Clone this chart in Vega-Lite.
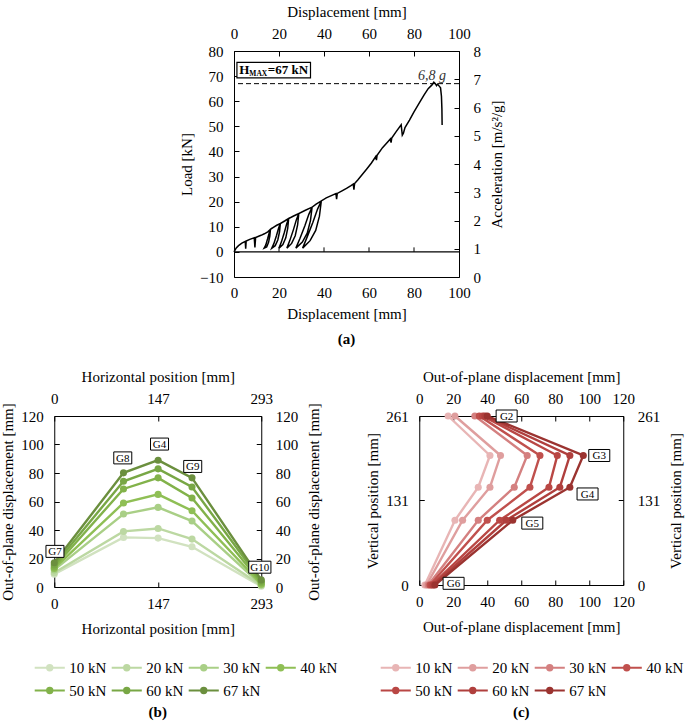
{
  "$schema": "https://vega.github.io/schema/vega-lite/v6.json",
  "background": "white",
  "padding": {"left": 0, "top": 3, "right": 0, "bottom": 0},
  "config": {
    "font": "Liberation Serif",
    "view": {"stroke": "black", "strokeWidth": 1},
    "axis": {"domain": false, "grid": false, "labelFont": "Liberation Serif", "titleFont": "Liberation Serif", "labelFontSize": 15, "titleFontSize": 15, "titleFontWeight": "normal", "labelColor": "black", "titleColor": "black", "tickColor": "black", "tickSize": -5, "labelFlush": false, "labelOverlap": false},
    "axisTop": {"labelPadding": 15, "titlePadding": 7},
    "axisBottom": {"labelPadding": 14, "titlePadding": 10},
    "axisLeft": {"labelPadding": 16, "titlePadding": 5},
    "axisRight": {"labelPadding": 19, "titlePadding": 9, "titleAngle": 270, "titleBaseline": "top"},
    "legend": {"orient": "none", "direction": "horizontal", "columns": 4, "labelFont": "Liberation Serif", "symbolType": "M-2.15,0H2.15M-0.37,0A0.37,0.37,0,1,0,0.37,0A0.37,0.37,0,1,0,-0.37,0M-0.15,0A0.15,0.15,0,1,0,0.15,0A0.15,0.15,0,1,0,-0.15,0", "symbolSize": 196, "symbolStrokeWidth": 2.2, "labelFontSize": 15, "labelColor": "black", "labelOffset": 11, "columnPadding": 0, "rowPadding": 6},
    "title": {"font": "Liberation Serif", "fontSize": 15, "fontWeight": "bold", "color": "black", "orient": "bottom", "offset": 10},
    "text": {"font": "Liberation Serif"}
  },
  "datasets": {
    "curve": [
      {"i":0,"d":0,"f":0},{"i":1,"d":1,"f":1.6},{"i":2,"d":2,"f":2.5},{"i":3,"d":3.5,"f":3.5},{"i":4,"d":5,"f":4.2},{"i":5,"d":5.2,"f":1.3},{"i":6,"d":5.4,"f":4.3},{"i":7,"d":7,"f":5},{"i":8,"d":9,"f":5.6},{"i":9,"d":9.3,"f":1.8},
      {"i":10,"d":9.6,"f":5.7},{"i":11,"d":12,"f":6.6},{"i":12,"d":13.5,"f":7.2},{"i":13,"d":15,"f":8},{"i":14,"d":16.2,"f":9},{"i":15,"d":15.92,"f":6.3},{"i":16,"d":15.36,"f":3.78},{"i":17,"d":14.52,"f":1.98},{"i":18,"d":13.4,"f":1.5},{"i":19,"d":14.1,"f":2.7},
      {"i":20,"d":14.94,"f":5.22},{"i":21,"d":15.64,"f":7.56},{"i":22,"d":16.2,"f":9},{"i":23,"d":17.5,"f":9.8},{"i":24,"d":19,"f":10.6},{"i":25,"d":20.6,"f":11.3},{"i":26,"d":20.22,"f":7.91},{"i":27,"d":19.46,"f":4.75},{"i":28,"d":18.32,"f":2.49},{"i":29,"d":16.8,"f":1.5},
      {"i":30,"d":17.75,"f":3.39},{"i":31,"d":18.89,"f":6.55},{"i":32,"d":19.84,"f":9.49},{"i":33,"d":20.6,"f":11.3},{"i":34,"d":22.5,"f":12.3},{"i":35,"d":24.3,"f":13.3},{"i":36,"d":23.87,"f":9.31},{"i":37,"d":23.01,"f":5.59},{"i":38,"d":21.72,"f":2.93},{"i":39,"d":20,"f":1.5},
      {"i":40,"d":21.08,"f":3.99},{"i":41,"d":22.37,"f":7.71},{"i":42,"d":23.44,"f":11.17},{"i":43,"d":24.3,"f":13.3},{"i":44,"d":26.5,"f":14.3},{"i":45,"d":28.8,"f":15.3},{"i":46,"d":28.27,"f":10.71},{"i":47,"d":27.21,"f":6.43},{"i":48,"d":25.62,"f":3.37},{"i":49,"d":23.5,"f":1.5},
      {"i":50,"d":24.83,"f":4.59},{"i":51,"d":26.42,"f":8.87},{"i":52,"d":27.74,"f":12.85},{"i":53,"d":28.8,"f":15.3},{"i":54,"d":31.5,"f":16.5},{"i":55,"d":34.7,"f":17.8},{"i":56,"d":33.98,"f":12.46},{"i":57,"d":32.54,"f":7.48},{"i":58,"d":30.38,"f":3.92},{"i":59,"d":27.5,"f":1.5},
      {"i":60,"d":29.3,"f":5.34},{"i":61,"d":31.46,"f":10.32},{"i":62,"d":33.26,"f":14.95},{"i":63,"d":34.7,"f":17.8},{"i":64,"d":36.5,"f":19},{"i":65,"d":38.8,"f":20.3},{"i":66,"d":37.97,"f":14.21},{"i":67,"d":36.31,"f":8.53},{"i":68,"d":33.82,"f":4.47},{"i":69,"d":30.5,"f":1.5},
      {"i":70,"d":32.58,"f":6.09},{"i":71,"d":35.07,"f":11.77},{"i":72,"d":37.14,"f":17.05},{"i":73,"d":38.8,"f":20.3},{"i":74,"d":41,"f":21.5},{"i":75,"d":43,"f":22.3},{"i":76,"d":45.3,"f":23.2},{"i":77,"d":45.6,"f":21},{"i":78,"d":45.9,"f":23.3},{"i":79,"d":48,"f":24.3},
      {"i":80,"d":50,"f":25.3},{"i":81,"d":52,"f":26.4},{"i":82,"d":53,"f":27},{"i":83,"d":53.3,"f":24.8},{"i":84,"d":53.6,"f":27.2},{"i":85,"d":55,"f":28.6},{"i":86,"d":57,"f":30.8},{"i":87,"d":59,"f":33},{"i":88,"d":61,"f":35.3},{"i":89,"d":63,"f":38},
      {"i":90,"d":63.3,"f":36.5},{"i":91,"d":63.6,"f":38.5},{"i":92,"d":66,"f":41.5},{"i":93,"d":68,"f":43.5},{"i":94,"d":69.5,"f":45},{"i":95,"d":69.8,"f":43.5},{"i":96,"d":70.1,"f":45.3},{"i":97,"d":72,"f":47.8},{"i":98,"d":74.3,"f":50.6},{"i":99,"d":74.8,"f":46.5},
      {"i":100,"d":75.3,"f":47.3},{"i":101,"d":76,"f":49.5},{"i":102,"d":78,"f":52.5},{"i":103,"d":80,"f":55.8},{"i":104,"d":82.5,"f":59.5},{"i":105,"d":84.5,"f":62.5},{"i":106,"d":86.3,"f":65},{"i":107,"d":88,"f":66.5},{"i":108,"d":88.8,"f":67.6},{"i":109,"d":89.5,"f":67},
      {"i":110,"d":90,"f":66.2},{"i":111,"d":90.5,"f":66.8},{"i":112,"d":91.2,"f":66},{"i":113,"d":91.8,"f":65.3},{"i":114,"d":92.2,"f":62},{"i":115,"d":92.4,"f":57},{"i":116,"d":92.5,"f":50.5}
    ],
    "b": [
      {"load":"10 kN","p":0,"v":9},{"load":"20 kN","p":0,"v":10},{"load":"30 kN","p":0,"v":12},{"load":"40 kN","p":0,"v":13},{"load":"50 kN","p":0,"v":14},{"load":"60 kN","p":0,"v":15.5},{"load":"67 kN","p":0,"v":17},
      {"load":"10 kN","p":98,"v":34.8},{"load":"20 kN","p":98,"v":39},{"load":"30 kN","p":98,"v":51.2},{"load":"40 kN","p":98,"v":59},{"load":"50 kN","p":98,"v":68.8},{"load":"60 kN","p":98,"v":74.2},{"load":"67 kN","p":98,"v":80.1},
      {"load":"10 kN","p":147,"v":34.3},{"load":"20 kN","p":147,"v":41.1},{"load":"30 kN","p":147,"v":55.9},{"load":"40 kN","p":147,"v":65},{"load":"50 kN","p":147,"v":76.6},{"load":"60 kN","p":147,"v":82.9},{"load":"67 kN","p":147,"v":89},
      {"load":"10 kN","p":195,"v":28.2},{"load":"20 kN","p":195,"v":33.6},{"load":"30 kN","p":195,"v":46.3},{"load":"40 kN","p":195,"v":53.5},{"load":"50 kN","p":195,"v":62.5},{"load":"60 kN","p":195,"v":70.2},{"load":"67 kN","p":195,"v":76.6},
      {"load":"10 kN","p":293,"v":0.5},{"load":"20 kN","p":293,"v":1},{"load":"30 kN","p":293,"v":1.5},{"load":"40 kN","p":293,"v":2},{"load":"50 kN","p":293,"v":3},{"load":"60 kN","p":293,"v":4},{"load":"67 kN","p":293,"v":5}
    ],
    "c": [
      {"load":"10 kN","h":261,"o":17},{"load":"20 kN","h":261,"o":21},{"load":"30 kN","h":261,"o":32.7},{"load":"40 kN","h":261,"o":35.3},{"load":"50 kN","h":261,"o":37.3},{"load":"60 kN","h":261,"o":38.6},{"load":"67 kN","h":261,"o":40},
      {"load":"10 kN","h":200,"o":41.6},{"load":"20 kN","h":200,"o":47.8},{"load":"30 kN","h":200,"o":63.5},{"load":"40 kN","h":200,"o":71},{"load":"50 kN","h":200,"o":81.2},{"load":"60 kN","h":200,"o":88.6},{"load":"67 kN","h":200,"o":96.5},
      {"load":"10 kN","h":151,"o":34.7},{"load":"20 kN","h":151,"o":41.6},{"load":"30 kN","h":151,"o":55.9},{"load":"40 kN","h":151,"o":65.1},{"load":"50 kN","h":151,"o":76.3},{"load":"60 kN","h":151,"o":82.7},{"load":"67 kN","h":151,"o":88.6},
      {"load":"10 kN","h":100,"o":21},{"load":"20 kN","h":100,"o":25.5},{"load":"30 kN","h":100,"o":34.7},{"load":"40 kN","h":100,"o":40},{"load":"50 kN","h":100,"o":47.3},{"load":"60 kN","h":100,"o":51.2},{"load":"67 kN","h":100,"o":55},
      {"load":"10 kN","h":0,"o":3.3},{"load":"20 kN","h":0,"o":4.3},{"load":"30 kN","h":0,"o":5.3},{"load":"40 kN","h":0,"o":6.3},{"load":"50 kN","h":0,"o":7.3},{"load":"60 kN","h":0,"o":8.2},{"load":"67 kN","h":0,"o":9.2}
    ],
    "blab": [
      {"g":"G7","p":1,"v":25},{"g":"G8","p":97,"v":90.6},{"g":"G4","p":149,"v":100.3},{"g":"G9","p":196,"v":84.6},{"g":"G10","p":291,"v":13.9}
    ],
    "clab": [
      {"g":"G2","o":51.4,"h":261},{"g":"G3","o":105.9,"h":200},{"g":"G4","o":99,"h":140.6},{"g":"G5","o":66.5,"h":95.6},{"g":"G6","o":20.2,"h":2.6}
    ]
  },
  "center": true,
  "spacing": 21,
  "vconcat": [
    {
      "title": {"text": "(a)", "offset": 10},
      "width": 225,
      "height": 226,
      "layer": [
        {
          "layer": [
            {
              "data": {"values": [{"d": 1.3, "d2": 34, "f": 69.3, "f2": 75.5}]},
              "mark": {"type": "rect", "fill": "white", "stroke": "black", "strokeWidth": 1.2},
              "encoding": {
                "x": {"field": "d", "type": "quantitative", "scale": {"domain": [0, 100], "nice": false}, "axis": null},
                "x2": {"field": "d2"},
                "y": {"field": "f", "type": "quantitative", "scale": {"domain": [-10, 80], "nice": false}, "axis": null},
                "y2": {"field": "f2"}
              }
            },
            {
              "data": {"values": [{}]},
              "mark": {"type": "rule", "color": "black", "strokeWidth": 1.2},
              "encoding": {"y": {"datum": 0, "type": "quantitative", "axis": null}}
            },
            {
              "data": {"values": [{}]},
              "mark": {"type": "rule", "color": "black", "strokeWidth": 1, "strokeDash": [5, 3]},
              "encoding": {"y": {"datum": 67, "type": "quantitative", "axis": null}}
            },
            {
              "data": {"values": [{"d": 20}, {"d": 40}, {"d": 60}, {"d": 80}]},
              "mark": {"type": "rule", "color": "black", "strokeWidth": 1},
              "encoding": {"x": {"field": "d", "type": "quantitative", "axis": null}, "y": {"datum": 0, "type": "quantitative", "axis": null}, "y2": {"datum": 1.8}}
            },
            {
              "data": {"name": "curve"},
              "mark": {"type": "line", "color": "black", "strokeWidth": 1.5},
              "encoding": {
                "x": {"field": "d", "type": "quantitative", "axis": null},
                "y": {"field": "f", "type": "quantitative", "axis": null},
                "order": {"field": "i", "type": "quantitative"}
              }
            },
            {
              "data": {"values": [{"t": "H", "d": 2.3, "f": 70.7}, {"t": "=67 kN", "d": 15.0, "f": 70.7}]},
              "mark": {"type": "text", "font": "Liberation Serif", "align": "left", "baseline": "alphabetic", "fontSize": 13, "fontWeight": "bold", "color": "black"},
              "encoding": {"x": {"field": "d", "type": "quantitative", "axis": null}, "y": {"field": "f", "type": "quantitative", "axis": null}, "text": {"field": "t"}}
            },
            {
              "data": {"values": [{"t": "MAX", "d": 6.8, "f": 70.0}]},
              "mark": {"type": "text", "font": "Liberation Serif", "align": "left", "baseline": "alphabetic", "fontSize": 7.5, "fontWeight": "bold", "color": "black"},
              "encoding": {"x": {"field": "d", "type": "quantitative", "axis": null}, "y": {"field": "f", "type": "quantitative", "axis": null}, "text": {"field": "t"}}
            },
            {
              "data": {"values": [{"t": "6,8 g", "d": 88, "f": 68.6}]},
              "mark": {"type": "text", "font": "Liberation Serif", "align": "center", "baseline": "alphabetic", "fontSize": 14, "fontStyle": "italic", "color": "#333333"},
              "encoding": {"x": {"field": "d", "type": "quantitative", "axis": null}, "y": {"field": "f", "type": "quantitative", "axis": null}, "text": {"field": "t"}}
            }
          ]
        },
        {
          "data": {"values": [{"d": 0, "f": -10}, {"d": 100, "f": 80}]},
          "mark": {"type": "point", "opacity": 0},
          "encoding": {
            "x": {"field": "d", "type": "quantitative", "scale": {"domain": [0, 100], "nice": false}, "axis": {"orient": "bottom", "title": "Displacement [mm]", "values": [0, 20, 40, 60, 80, 100], "ticks": false, "labelPadding": 8.5, "titlePadding": 6}},
            "y": {"field": "f", "type": "quantitative", "scale": {"domain": [-10, 80], "nice": false}, "axis": {"orient": "left", "title": "Load [kN]", "values": [-10, 0, 10, 20, 30, 40, 50, 60, 70, 80]}}
          }
        },
        {
          "data": {"values": [{"d": 0, "a": 0}, {"d": 100, "a": 8}]},
          "mark": {"type": "point", "opacity": 0},
          "encoding": {
            "x": {"field": "d", "type": "quantitative", "scale": {"domain": [0, 100], "nice": false}, "axis": {"orient": "top", "title": "Displacement [mm]", "values": [0, 20, 40, 60, 80, 100]}},
            "y": {"field": "a", "type": "quantitative", "scale": {"domain": [0, 8], "nice": false}, "axis": {"orient": "right", "title": "Acceleration [m/s²/g]", "titleAngle": 270, "titleBaseline": "top", "values": [0, 1, 2, 3, 4, 5, 6, 7, 8]}}
          }
        }
      ],
      "resolve": {"scale": {"x": "independent", "y": "independent"}, "axis": {"x": "independent", "y": "independent"}}
    },
    {
      "spacing": 26,
      "resolve": {"scale": {"color": "independent"}, "legend": {"color": "independent"}},
      "hconcat": [
        {
          "title": {"text": "(b)", "offset": 6},
          "width": 207,
          "height": 171,
          "layer": [
            {
              "layer": [
                {
                  "data": {"name": "b"},
                  "mark": {"type": "line", "strokeWidth": 2.4},
                  "encoding": {
                    "x": {"field": "p", "type": "quantitative", "scale": {"domain": [0, 293], "nice": false}, "axis": null},
                    "y": {"field": "v", "type": "quantitative", "scale": {"domain": [0, 120], "nice": false}, "axis": null},
                    "color": {"field": "load", "type": "nominal", "scale": {"domain": ["10 kN", "20 kN", "30 kN", "40 kN", "50 kN", "60 kN", "67 kN"], "range": ["#d1e2c0", "#bcd8a2", "#a9cf86", "#8fbf55", "#82b24a", "#78a745", "#6b8f3e"]}, "legend": {"title": null, "orient": "none", "legendX": -13, "legendY": 243}}
                  }
                },
                {
                  "data": {"name": "b"},
                  "mark": {"type": "point", "filled": true, "size": 50, "opacity": 1},
                  "encoding": {
                    "x": {"field": "p", "type": "quantitative", "axis": null},
                    "y": {"field": "v", "type": "quantitative", "axis": null},
                    "color": {"field": "load", "type": "nominal", "legend": {"title": null, "orient": "none", "legendX": -13, "legendY": 243}}
                  }
                },
                {
                  "data": {"name": "blab"},
                  "transform": [{"filter": "length(datum.g) == 2"}],
                  "mark": {"type": "point", "shape": "M-1.5,-1H1.5V1H-1.5Z", "size": 144, "filled": true, "fill": "white", "stroke": "black", "strokeWidth": 1, "opacity": 1},
                  "encoding": {"x": {"field": "p", "type": "quantitative", "axis": null}, "y": {"field": "v", "type": "quantitative", "axis": null}}
                },
                {
                  "data": {"name": "blab"},
                  "transform": [{"filter": "length(datum.g) == 3"}],
                  "mark": {"type": "point", "shape": "M-1.85,-1H1.85V1H-1.85Z", "size": 144, "filled": true, "fill": "white", "stroke": "black", "strokeWidth": 1, "opacity": 1},
                  "encoding": {"x": {"field": "p", "type": "quantitative", "axis": null}, "y": {"field": "v", "type": "quantitative", "axis": null}}
                },
                {
                  "data": {"name": "blab"},
                  "mark": {"type": "text", "font": "Liberation Serif", "fontSize": 11, "color": "black", "baseline": "middle", "dy": 1},
                  "encoding": {"x": {"field": "p", "type": "quantitative", "axis": null}, "y": {"field": "v", "type": "quantitative", "axis": null}, "text": {"field": "g"}}
                }
              ]
            },
            {
              "data": {"values": [{"p": 0, "v": 0}, {"p": 293, "v": 120}]},
              "mark": {"type": "point", "opacity": 0},
              "encoding": {
                "x": {"field": "p", "type": "quantitative", "scale": {"domain": [0, 293], "nice": false}, "axis": {"orient": "bottom", "title": "Horizontal position [mm]", "values": [0, 147, 293]}},
                "y": {"field": "v", "type": "quantitative", "scale": {"domain": [0, 120], "nice": false}, "axis": {"orient": "left", "title": "Out-of-plane displacement [mm]", "values": [0, 20, 40, 60, 80, 100, 120]}}
              }
            },
            {
              "data": {"values": [{"p": 0, "v": 0}, {"p": 293, "v": 120}]},
              "mark": {"type": "point", "opacity": 0},
              "encoding": {
                "x": {"field": "p", "type": "quantitative", "scale": {"domain": [0, 293], "nice": false}, "axis": {"orient": "top", "title": "Horizontal position [mm]", "values": [0, 147, 293]}},
                "y": {"field": "v", "type": "quantitative", "scale": {"domain": [0, 120], "nice": false}, "axis": {"orient": "right", "title": "Out-of-plane displacement [mm]", "titleAngle": 270, "titleBaseline": "top", "values": [0, 20, 40, 60, 80, 100, 120]}}
              }
            }
          ],
          "resolve": {"scale": {"x": "independent", "y": "independent"}, "axis": {"x": "independent", "y": "independent"}}
        },
        {
          "title": {"text": "(c)", "offset": 6},
          "width": 204,
          "height": 169,
          "layer": [
            {
              "layer": [
                {
                  "data": {"name": "c"},
                  "mark": {"type": "line", "strokeWidth": 2.4},
                  "encoding": {
                    "x": {"field": "o", "type": "quantitative", "scale": {"domain": [0, 120], "nice": false}, "axis": null},
                    "y": {"field": "h", "type": "quantitative", "scale": {"domain": [0, 261], "nice": false}, "axis": null},
                    "order": {"field": "h", "type": "quantitative"},
                    "color": {"field": "load", "type": "nominal", "scale": {"domain": ["10 kN", "20 kN", "30 kN", "40 kN", "50 kN", "60 kN", "67 kN"], "range": ["#e8b5b5", "#df9e9e", "#d48080", "#c0504d", "#b94744", "#b03f3d", "#9b3330"]}, "legend": {"title": null, "orient": "none", "legendX": -32, "legendY": 243}}
                  }
                },
                {
                  "data": {"name": "c"},
                  "mark": {"type": "point", "filled": true, "size": 50, "opacity": 1},
                  "encoding": {
                    "x": {"field": "o", "type": "quantitative", "axis": null},
                    "y": {"field": "h", "type": "quantitative", "axis": null},
                    "color": {"field": "load", "type": "nominal", "legend": {"title": null, "orient": "none", "legendX": -32, "legendY": 243}}
                  }
                },
                {
                  "data": {"name": "clab"},
                  "mark": {"type": "point", "shape": "M-1.75,-1H1.75V1H-1.75Z", "size": 144, "filled": true, "fill": "white", "stroke": "black", "strokeWidth": 1, "opacity": 1},
                  "encoding": {"x": {"field": "o", "type": "quantitative", "axis": null}, "y": {"field": "h", "type": "quantitative", "axis": null}}
                },
                {
                  "data": {"name": "clab"},
                  "mark": {"type": "text", "font": "Liberation Serif", "fontSize": 11, "color": "black", "baseline": "middle", "dy": 1},
                  "encoding": {"x": {"field": "o", "type": "quantitative", "axis": null}, "y": {"field": "h", "type": "quantitative", "axis": null}, "text": {"field": "g"}}
                }
              ]
            },
            {
              "data": {"values": [{"o": 0, "h": 0}, {"o": 120, "h": 261}]},
              "mark": {"type": "point", "opacity": 0},
              "encoding": {
                "x": {"field": "o", "type": "quantitative", "scale": {"domain": [0, 120], "nice": false}, "axis": {"orient": "bottom", "title": "Out-of-plane displacement [mm]", "values": [0, 20, 40, 60, 80, 100, 120]}},
                "y": {"field": "h", "type": "quantitative", "scale": {"domain": [0, 261], "nice": false}, "axis": {"orient": "left", "title": "Vertical position [mm]", "values": [0, 131, 261]}}
              }
            },
            {
              "data": {"values": [{"o": 0, "h": 0}, {"o": 120, "h": 261}]},
              "mark": {"type": "point", "opacity": 0},
              "encoding": {
                "x": {"field": "o", "type": "quantitative", "scale": {"domain": [0, 120], "nice": false}, "axis": {"orient": "top", "title": "Out-of-plane displacement [mm]", "values": [0, 20, 40, 60, 80, 100, 120]}},
                "y": {"field": "h", "type": "quantitative", "scale": {"domain": [0, 261], "nice": false}, "axis": {"orient": "right", "title": "Vertical position [mm]", "titleAngle": 270, "titleBaseline": "top", "values": [0, 131, 261]}}
              }
            }
          ],
          "resolve": {"scale": {"x": "independent", "y": "independent"}, "axis": {"x": "independent", "y": "independent"}}
        }
      ]
    }
  ]
}
